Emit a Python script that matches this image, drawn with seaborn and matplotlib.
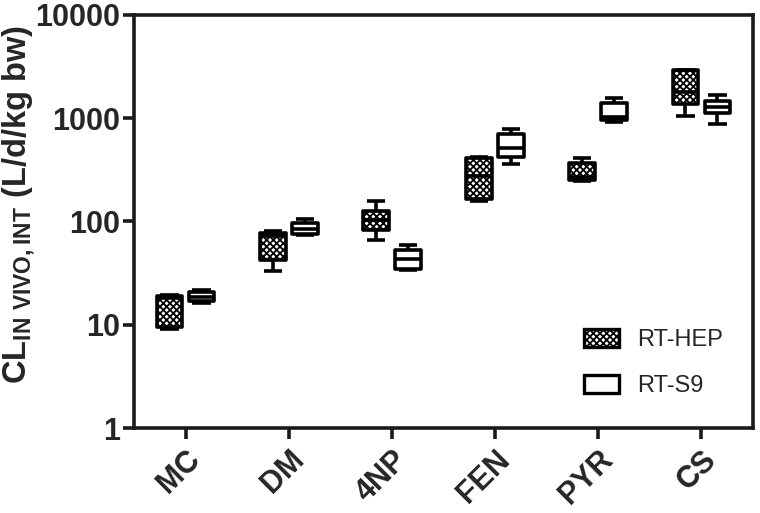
import numpy as np
import pandas as pd
import matplotlib
matplotlib.use("Agg")
import matplotlib.pyplot as plt
import seaborn as sns
from matplotlib.patches import Patch
from matplotlib.ticker import FixedLocator, FixedFormatter, NullLocator

# ---- data (five-number summaries: min, q1, median, q3, max)
categories = ["MC", "DM", "4NP", "FEN", "PYR", "CS"]
groups = ["RT-HEP", "RT-S9"]
hep_stats = [
    [9.15, 9.6, 18.1, 19.1, 19.3],
    [32.8, 42.5, 73.0, 77.0, 81.0],
    [66.0, 82.0, 103.0, 125.0, 158.0],
    [158.0, 165.0, 276.0, 410.0, 425.0],
    [246.0, 252.0, 270.0, 365.0, 416.0],
    [1062.0, 1370.0, 1778.0, 2910.0, 2940.0],
]
s9_stats = [
    [16.3, 16.8, 18.7, 20.9, 21.8],
    [73.5, 75.5, 85.0, 96.5, 106.0],
    [33.8, 34.4, 43.5, 53.0, 59.5],
    [357.0, 421.0, 515.0, 697.0, 788.0],
    [930.0, 952.0, 1030.0, 1406.0, 1555.0],
    [887.0, 1127.0, 1289.0, 1473.0, 1663.0],
]
ytick_values = [1, 10, 100, 1000, 10000]
ytick_labels = ["1", "10", "100", "1000", "10000"]

rows = []
for cat, h, s in zip(categories, hep_stats, s9_stats):
    for v in h:
        rows.append((cat, groups[0], v))
    for v in s:
        rows.append((cat, groups[1], v))
df = pd.DataFrame(rows, columns=["compound", "system", "value"])

# ---- style
sns.set_style("ticks")
plt.rcParams["font.family"] = ["Liberation Sans", "DejaVu Sans"]
plt.rcParams["mathtext.fontset"] = "custom"
plt.rcParams["mathtext.rm"] = "Liberation Sans:bold"
plt.rcParams["mathtext.bf"] = "Liberation Sans:bold"
plt.rcParams["hatch.linewidth"] = 1.3

fig = plt.figure(figsize=(7.6, 5.13), dpi=100)
ax = fig.add_axes([134 / 760, 85 / 513, (753 - 134) / 760, (428 - 15) / 513])

sns.boxplot(
    data=df, x="compound", y="value", hue="system",
    order=categories, hue_order=groups,
    palette={"RT-HEP": "white", "RT-S9": "white"},
    linecolor="black", linewidth=2.6, width=0.62, gap=0.2,
    whis=(0, 100), log_scale=True, legend=False, ax=ax,
)

hatch = "xxxxx"
box_w = None
for p in ax.patches:
    ext = p.get_path().get_extents()
    cx = (ext.x0 + ext.x1) / 2
    box_w = ext.x1 - ext.x0
    p.set_joinstyle("round")
    if cx < round(cx):
        p.set_hatch(hatch)
        p.set_edgecolor("black")

# widen whisker caps a little (they are the short horizontal lines)
for ln in ax.lines:
    ln.set_solid_capstyle("butt")
    xd = np.asarray(ln.get_xdata(), dtype=float)
    yd = np.asarray(ln.get_ydata(), dtype=float)
    if len(xd) == 2 and yd[0] == yd[1] and box_w is not None:
        span = abs(xd[1] - xd[0])
        if span < 0.8 * box_w:
            c = xd.mean()
            half = 0.36 * box_w
            ln.set_xdata([c - half, c + half])

ax.set_xlim(-0.5, 5.5)
ax.set_ylim(1, 10000)
ax.yaxis.set_major_locator(FixedLocator(ytick_values))
ax.yaxis.set_major_formatter(FixedFormatter(ytick_labels))
ax.yaxis.set_minor_locator(NullLocator())

for sp in ax.spines.values():
    sp.set_visible(True)
    sp.set_linewidth(2.6)
    sp.set_color("#1a1a1a")

ax.tick_params(axis="both", direction="out", length=8, width=2.6, color="#1a1a1a")
ax.tick_params(axis="y", labelsize=22, pad=2)
ax.tick_params(axis="x", labelsize=22, pad=4)
for t in ax.get_yticklabels():
    t.set_fontweight("bold")
for t in ax.get_xticklabels():
    t.set_fontweight("bold")
    t.set_rotation(45)
    t.set_ha("right")
    t.set_rotation_mode("anchor")

ax.set_xlabel("")
ax.set_ylabel(r"CL$_{\mathrm{IN\ VIVO,INT}}$ (L/d/kg bw)", fontsize=23.5,
              fontweight="bold")
ax.yaxis.set_label_coords((38 - 134) / 619, (428 - 205) / 413)

handles = [
    Patch(facecolor="white", edgecolor="black", hatch=hatch, linewidth=2.4, label="RT-HEP"),
    Patch(facecolor="white", edgecolor="black", linewidth=2.4, label="RT-S9"),
]
ax.legend(handles=handles, loc="upper left", bbox_to_anchor=(584 / 760, 1 - 329 / 513),
          bbox_transform=fig.transFigure, frameon=False, fontsize=17,
          handlelength=1.5, handleheight=0.8, handletextpad=0.75,
          labelspacing=1.0, borderpad=0, borderaxespad=0)

fig.savefig("out.png", dpi=100)
